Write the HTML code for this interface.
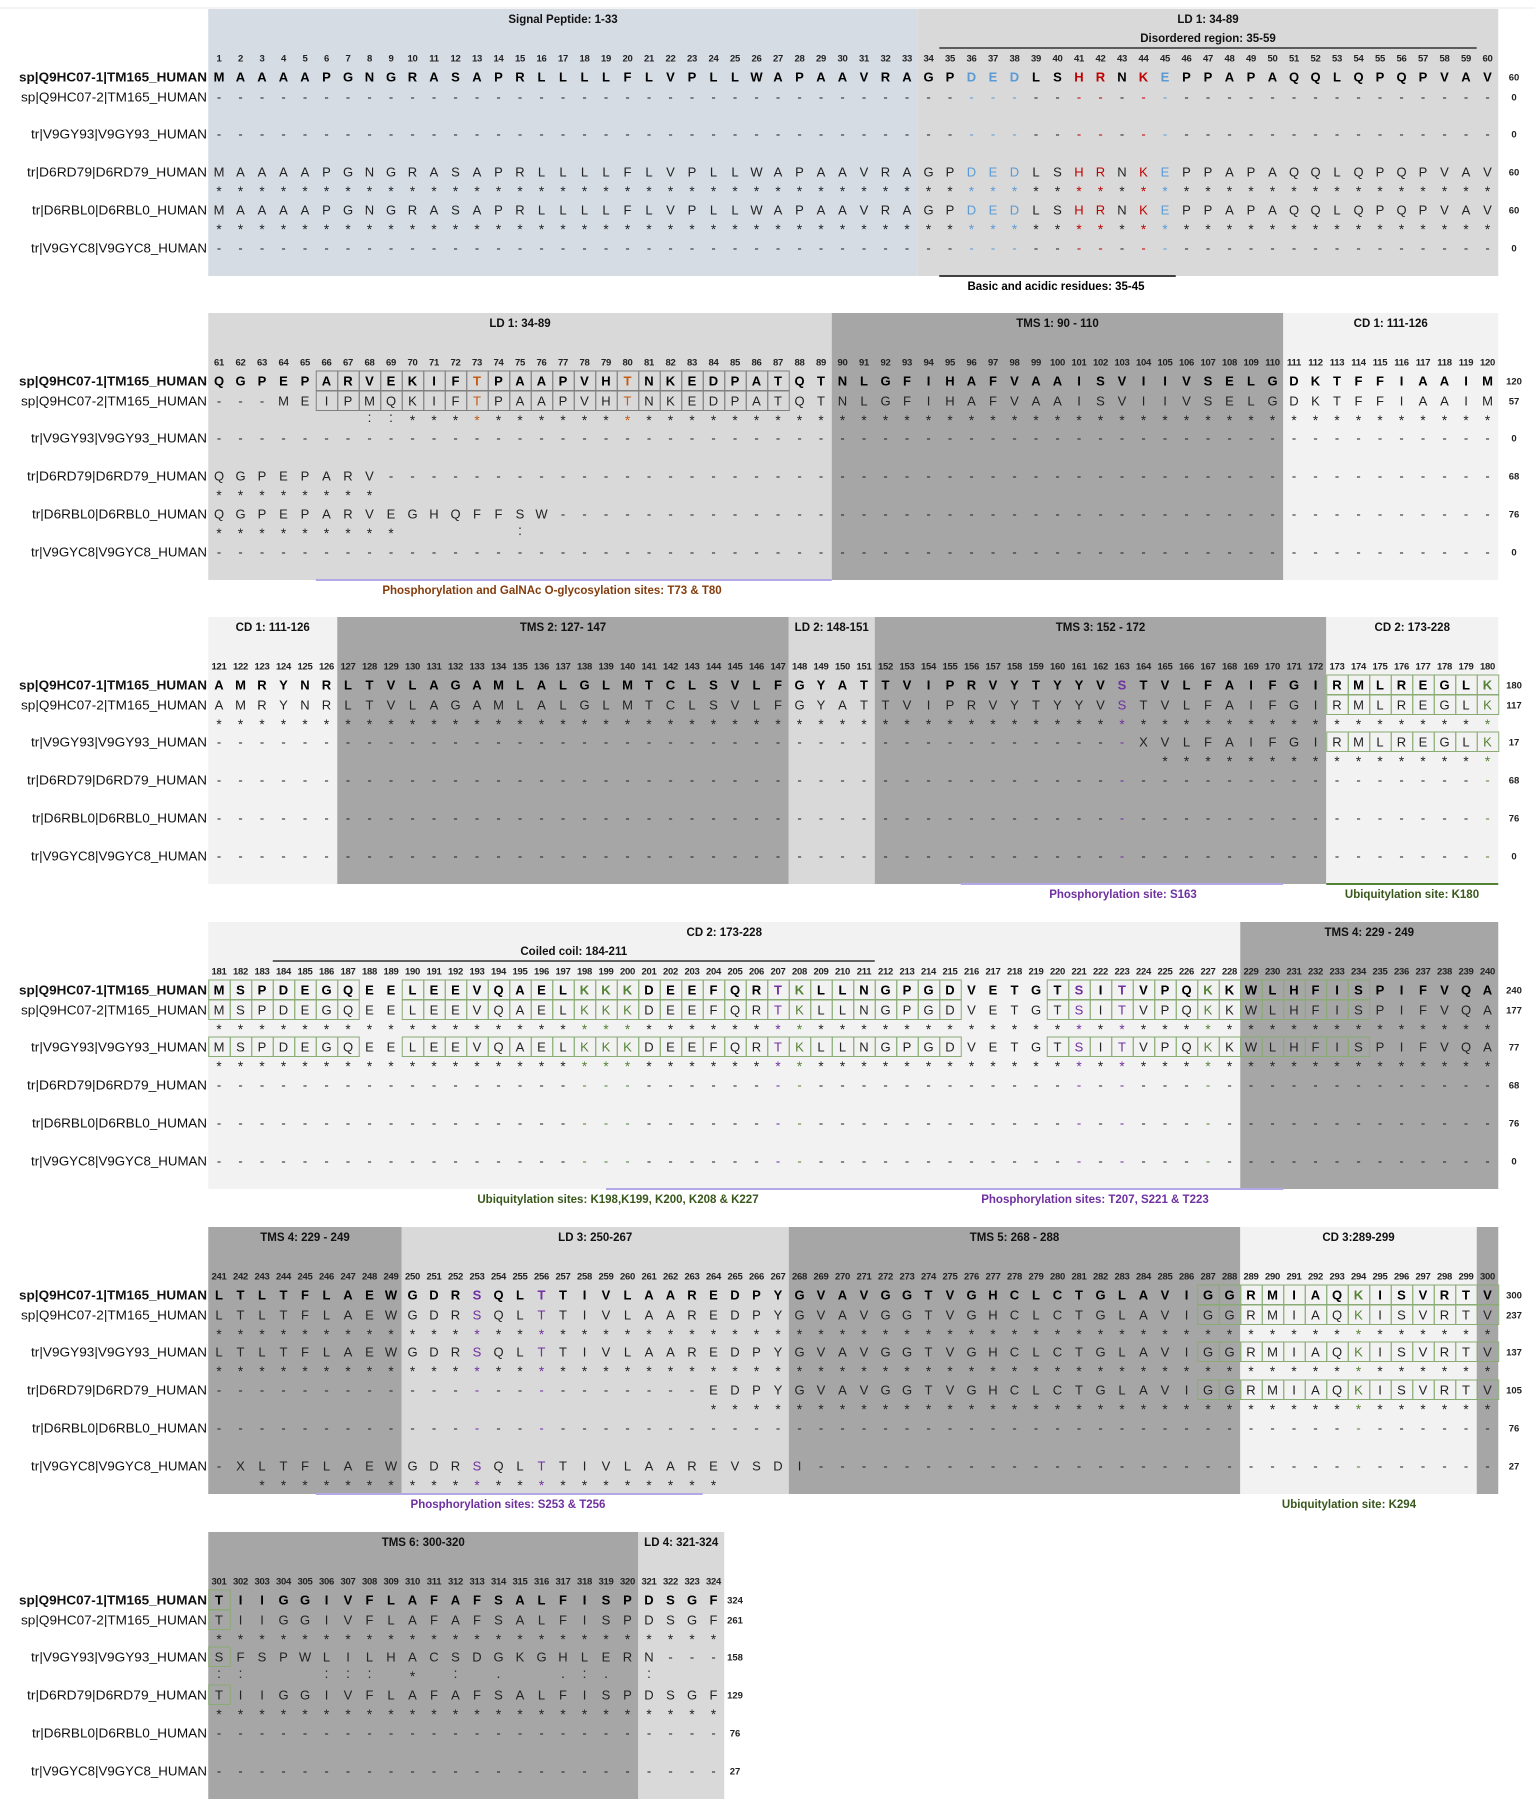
<!DOCTYPE html>
<html><head><meta charset="utf-8">
<style>
html,body{margin:0;padding:0;background:#fff;}
svg{display:block;font-family:"Liberation Sans",sans-serif;}
</style></head>
<body>
<svg id="fig" width="1535" height="1806" viewBox="0 0 1535 1806" xmlns="http://www.w3.org/2000/svg">
<line x1="0" y1="8" x2="1535" y2="8" stroke="#e8e8e8" stroke-width="1"/>
</svg>
<script>
// ---- data ----
const seqNames = ["sp|Q9HC07-1|TM165_HUMAN","sp|Q9HC07-2|TM165_HUMAN","tr|V9GY93|V9GY93_HUMAN","tr|D6RD79|D6RD79_HUMAN","tr|D6RBL0|D6RBL0_HUMAN","tr|V9GYC8|V9GYC8_HUMAN"];
const nameLeft = [19,21,31,27,32,31];
const refSeq = "MAAAAPGNGRASAPRLLLLFLVPLLWAPAAVRAGPDEDLSHRNKEPPAPAQQLQPQPVAV" +
  "QGPEPARVEKIFTPAAPVHTNKEDPATQTNLGFIHAFVAAISVIIVSELGDKTFFIAAIM" +
  "AMRYNRLTVLAGAMLALGLMTCLSVLFGYATTVIPRVYTYYVSTVLFAIFGIRMLREGLK" +
  "MSPDEGQEELEEVQAELKKKDEEFQRTKLLNGPGDVETGTSITVPQKKWLHFISPIFVQA" +
  "LTLTFLAEWGDRSQLTTIVLAAREDPYGVAVGGTVGHCLCTGLAVIGGRMIAQKISVRTV" +
  "TIIGGIVFLAFAFSALFISPDSGF";
const gaps = n => "-".repeat(n);
const seqRow2 = gaps(63) + "MEIPMQ" + refSeq.slice(69);
const seqRow3 = gaps(163) + "X" + refSeq.slice(164,300) + "SFSPWLILHACSDGKGHLERN---";
const seqRow4 = refSeq.slice(0,68) + gaps(263-68) + refSeq.slice(263);
const seqRow5 = refSeq.slice(0,68) + "EGHQFFSW" + gaps(324-76);
const seqRow6 = gaps(241) + "X" + refSeq.slice(242,263) + "EVSDI" + gaps(324-268);
const seqs = [refSeq, seqRow2, seqRow3, seqRow4, seqRow5, seqRow6];
const symbolOverrides = {"1:68":":","1:69":":","4:75":":","2:301":":","2:302":":","2:306":":","2:307":":","2:308":":","2:312":":","2:314":".","2:317":".","2:318":":","2:319":".","2:321":":"};
const regionStart = [1,34,90,111,127,148,152,173,229,250,268,289,300,321];
const regionEnd   = [33,89,110,126,147,151,172,228,249,267,288,299,320,324];
const regionTitle = ["Signal Peptide: 1-33","LD 1: 34-89","TMS 1: 90 - 110","CD 1: 111-126","TMS 2: 127- 147","LD 2: 148-151","TMS 3: 152 - 172","CD 2: 173-228","TMS 4: 229 - 249","LD 3: 250-267","TMS 5: 268 - 288","CD 3:289-299","TMS 6: 300-320","LD 4: 321-324"];
const regionFill  = ["#d6dce4","#d9d9d9","#a6a6a6","#f2f2f2","#a6a6a6","#d9d9d9","#a6a6a6","#f2f2f2","#a6a6a6","#d9d9d9","#a6a6a6","#f2f2f2","#a6a6a6","#d9d9d9"];
const siteCols   = [36,37,38,45,41,42,44,73,80,163,207,221,223,253,256,180,198,199,200,208,227,294];
const siteColors = ["#5b9bd5","#5b9bd5","#5b9bd5","#5b9bd5","#c00000","#c00000","#c00000","#c55a11","#c55a11","#7030a0","#7030a0","#7030a0","#7030a0","#7030a0","#7030a0","#548235","#548235","#548235","#548235","#548235","#548235","#548235"];
const siteRowsOnly = {73:[0,1],80:[0,1]};
const boxFrom  = [66,173,181,190,220,287,301];
const boxTo    = [87,180,187,215,234,300,301];
const boxRows  = [[0,1],[0,1,2],[0,1,2],[0,1,2],[0,1,2],[0,1,2,3],[0,1,2,3]];
const boxColor = ["#808080","#8aab74","#8aab74","#8aab74","#8aab74","#8aab74","#8aab74"];
const blockStartCol = [1,61,121,181,241,301];
const blockTop = [9,313,617,922,1227,1532];
const spanFrom = [35,184];
const spanTo   = [59,211];
const spanText = ["Disordered region: 35-59","Coiled coil: 184-211"];
const annBlock = [0,1,2,2,3,3,4,4];
const annText = ["Basic and acidic residues: 35-45","Phosphorylation and GalNAc O-glycosylation sites: T73 & T80","Phosphorylation site: S163","Ubiquitylation site: K180","Ubiquitylation sites: K198,K199, K200, K208 & K227","Phosphorylation sites: T207, S221 & T223","Phosphorylation sites: S253 & T256","Ubiquitylation site: K294"];
const annColor = ["#000000","#843c0c","#7030a0","#38571a","#38571a","#7030a0","#7030a0","#38571a"];
const annLineFrom = [35,66,156,173,199.5,199.5,66,0];
const annLineTo   = [45,89,170,180,230,230,83,0];
const annLineColor = ["#404040","#b4a7e6","#b4a7e6","#548235","#b4a7e6","#b4a7e6","#b4a7e6",""];
const annCenterX = [1056,552,1123,1412,618,1095,508,1349];

// ---- layout ----
const NS = "http://www.w3.org/2000/svg";
const svg = document.getElementById("fig");
const COLW = 21.5, X0 = 219;
const rowY = [68,88,125,163,201,239];
function colX(c){ return X0 + ((c-1)%60)*COLW; }
function blockOf(c){ return Math.floor((c-1)/60); }
function mk(tag, attrs, parent){ const e=document.createElementNS(NS,tag); for(const k in attrs) e.setAttribute(k,attrs[k]); (parent||svg).appendChild(e); return e; }
function colColor(c, r){
  const i=siteCols.indexOf(c); if(i<0) return null;
  if(siteRowsOnly[c] && siteRowsOnly[c].indexOf(r)<0) return null;
  return siteColors[i];
}

for(let b=0;b<6;b++){
  const top=blockTop[b], c0=blockStartCol[b], c1=Math.min(c0+59,324);
  const g=mk("g",{});
  
  
  for(let r=0;r<regionStart.length;r++){
    const s=Math.max(regionStart[r],c0), e=Math.min(regionEnd[r],c1);
    if(s>e) continue;
    const x=colX(s)-COLW/2, w=(e-s+1)*COLW;
    const rc=mk("rect",{x:x,y:top,width:w,height:267,fill:regionFill[r]},g);
    
    
    if(e-s>=2){
      const t=mk("text",{x:x+w/2,y:top+14,"text-anchor":"middle","font-size":"11.5","font-weight":"bold",fill:"#111"},g);
      t.textContent=regionTitle[r];
      
      
    }
  }
  for(let s=0;s<spanFrom.length;s++){
    if(blockOf(spanFrom[s])!==b) continue;
    const x1=colX(spanFrom[s])-COLW/2, x2=colX(spanTo[s])+COLW/2;
    const t=mk("text",{x:(x1+x2)/2,y:top+33,"text-anchor":"middle","font-size":"11.5","font-weight":"bold",fill:"#111"},g);
    t.textContent=spanText[s];
    
    
    const l=mk("line",{x1:x1,x2:x2,y1:top+39,y2:top+39,stroke:"#333","stroke-width":"1.5"},g);
    
    
  }
  for(let k=0;k<boxFrom.length;k++){
    if(blockOf(boxFrom[k])!==b) continue;
    for(const r of boxRows[k]){
      for(let c=boxFrom[k];c<=boxTo[k];c++){
        const bx=mk("rect",{x:colX(c)-COLW/2+0.5,y:top+rowY[r]-10,width:COLW,height:19.5,fill:"none",stroke:boxColor[k],"stroke-width":"1"},g);
        
        
      }
    }
  }
  for(let c=c0;c<=c1;c++){
    const t=mk("text",{x:colX(c),y:top+52.5,"text-anchor":"middle","font-size":"9.5","font-weight":"bold",fill:"#222","letter-spacing":"-0.3"},g);
    t.textContent=String(c);
    
    
  }
  for(let r=0;r<6;r++){
    const y=top+rowY[r];
    const nm=mk("text",{x:nameLeft[r],y:y+4.5,"font-size":"13","font-weight":r===0?"bold":"normal",fill:"#111",textLength:207-nameLeft[r],lengthAdjust:"spacingAndGlyphs"},g);
    nm.textContent=seqNames[r];
    
    
    let count=0;
    for(let c=1;c<=c1;c++) if(seqs[r][c-1]!=='-') count++;
    for(let c=c0;c<=c1;c++){
      const ch=seqs[r][c-1];
      const col=colColor(c,r)||(r===0?"#000":"#222");
      const t=mk("text",{x:colX(c),y:y+4.5,"text-anchor":"middle","font-size":"13","font-weight":r===0?"bold":"normal",fill:col},g);
      t.textContent=ch;
      
      
      if(r>0){
        let sym=null;
        const key=r+":"+c;
        if(symbolOverrides[key]) sym=symbolOverrides[key];
        else if(ch!=='-' && ch===refSeq[c-1]) sym="*";
        if(sym){
          const st=mk("text",{x:colX(c),y:y+(sym==="*"?24:21),"text-anchor":"middle","font-size":"13.5",fill:colColor(c,r)||"#222"},g);
          st.textContent=sym;
          
          
        }
      }
    }
    const tx = b===5 ? 735 : 1514;
    const tt=mk("text",{x:tx,y:y+3.5,"text-anchor":"middle","font-size":"9.5","font-weight":"bold",fill:"#222"},g);
    tt.textContent=String(count);
    
    
  }
}
for(let a=0;a<annText.length;a++){
  const top=blockTop[annBlock[a]];
  if(annLineColor[a]){
    const x1=colX(annLineFrom[a])-COLW/2, x2=colX(annLineTo[a])+COLW/2;
    const l=mk("line",{x1:x1,x2:x2,y1:top+267,y2:top+267,stroke:annLineColor[a],"stroke-width":"2"});
    
    
  }
  const t=mk("text",{x:annCenterX[a],y:top+281,"text-anchor":"middle","font-size":"11.5","font-weight":"bold",fill:annColor[a]});
  t.textContent=annText[a];
  
  
}
</script>
</body></html>
